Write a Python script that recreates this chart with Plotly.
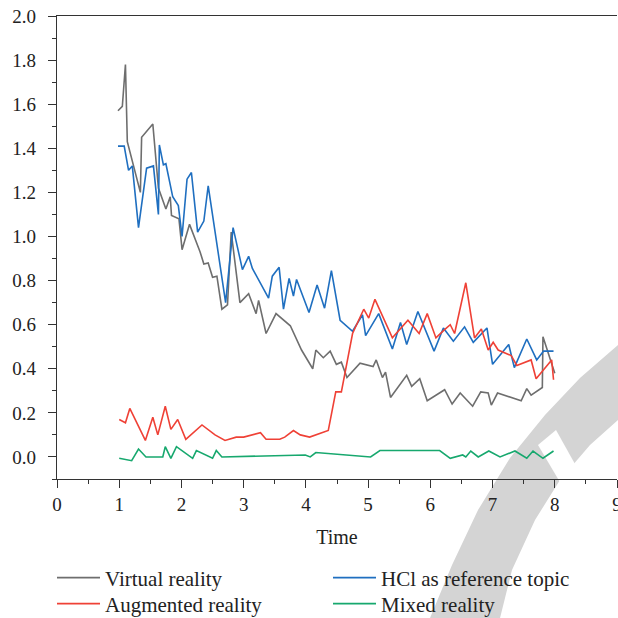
import plotly.graph_objects as go

# ---- data ----
vr_x = [0.98, 1.05, 1.10, 1.13, 1.34, 1.36, 1.54, 1.63, 1.75, 1.82, 1.84, 1.96, 2.01, 2.13, 2.30, 2.36, 2.43,
        2.50, 2.57, 2.65, 2.74, 2.80, 2.94, 3.08, 3.20, 3.24, 3.36, 3.52, 3.75, 3.93, 4.11, 4.16, 4.28, 4.39,
        4.49, 4.57, 4.66, 4.87, 5.08, 5.13, 5.23, 5.28, 5.36, 5.62, 5.70, 5.83, 5.95, 6.23, 6.35, 6.48, 6.68,
        6.81, 6.93, 6.98, 7.08, 7.46, 7.55, 7.62, 7.80, 7.81, 8.00]
vr_y = [1.57, 1.59, 1.78, 1.43, 1.20, 1.45, 1.51, 1.22, 1.125, 1.18, 1.095, 1.08, 0.94, 1.055, 0.93, 0.875, 0.88,
        0.815, 0.82, 0.67, 0.69, 1.02, 0.70, 0.74, 0.65, 0.71, 0.56, 0.65, 0.595, 0.485, 0.40, 0.485, 0.45, 0.48,
        0.42, 0.43, 0.36, 0.425, 0.41, 0.44, 0.36, 0.385, 0.27, 0.37, 0.32, 0.355, 0.255, 0.305, 0.24, 0.29, 0.23,
        0.295, 0.29, 0.235, 0.29, 0.255, 0.31, 0.28, 0.315, 0.545, 0.38]

hcl_x = [0.98, 1.08, 1.15, 1.21, 1.31, 1.44, 1.55, 1.63, 1.645, 1.71, 1.75, 1.86, 1.95, 2.01, 2.09, 2.16, 2.26,
         2.36, 2.43, 2.71, 2.83, 2.98, 3.08, 3.14, 3.40, 3.46, 3.57, 3.64, 3.73, 3.80, 3.85, 4.05, 4.18, 4.30,
         4.41, 4.55, 4.75, 4.91, 4.96, 5.17, 5.39, 5.52, 5.62, 5.80, 6.06, 6.21, 6.37, 6.55, 6.69, 6.91, 7.00,
         7.26, 7.35, 7.55, 7.71, 7.82, 7.98]
hcl_y = [1.41, 1.41, 1.30, 1.32, 1.04, 1.31, 1.32, 1.10, 1.415, 1.325, 1.33, 1.18, 1.14, 1.00, 1.26, 1.29, 1.02,
         1.07, 1.23, 0.70, 1.04, 0.85, 0.91, 0.855, 0.72, 0.82, 0.86, 0.67, 0.81, 0.73, 0.805, 0.655, 0.78, 0.675,
         0.845, 0.62, 0.57, 0.645, 0.55, 0.65, 0.49, 0.61, 0.51, 0.66, 0.48, 0.585, 0.525, 0.59, 0.52, 0.585, 0.42,
         0.51, 0.405, 0.535, 0.44, 0.48, 0.48]

ar_x = [1.00, 1.10, 1.17, 1.42, 1.54, 1.62, 1.74, 1.83, 1.94, 2.07, 2.33, 2.54, 2.70, 2.88, 3.00, 3.27, 3.36,
        3.58, 3.66, 3.80, 3.91, 4.06, 4.36, 4.48, 4.57, 4.75, 4.93, 5.01, 5.11, 5.39, 5.64, 5.72, 5.82, 5.95,
        6.09, 6.22, 6.32, 6.39, 6.57, 6.71, 6.82, 6.93, 7.01, 7.09, 7.30, 7.39, 7.62, 7.70, 7.95, 7.98]
ar_y = [0.17, 0.155, 0.22, 0.075, 0.18, 0.10, 0.23, 0.125, 0.17, 0.08, 0.145, 0.10, 0.075, 0.09, 0.09, 0.11, 0.08,
        0.08, 0.09, 0.12, 0.10, 0.09, 0.12, 0.295, 0.295, 0.56, 0.67, 0.63, 0.715, 0.54, 0.62, 0.595, 0.56, 0.65,
        0.54, 0.575, 0.60, 0.56, 0.79, 0.54, 0.58, 0.485, 0.52, 0.485, 0.46, 0.415, 0.44, 0.355, 0.44, 0.35]

mr_x = [1.00, 1.20, 1.31, 1.43, 1.70, 1.74, 1.83, 1.92, 2.18, 2.24, 2.50, 2.56, 2.65, 3.99, 4.07, 4.16, 5.04,
        5.19, 6.15, 6.32, 6.52, 6.57, 6.65, 6.77, 6.94, 7.12, 7.36, 7.55, 7.65, 7.81, 7.98]
mr_y = [-0.006, -0.017, 0.036, 0.0, 0.0, 0.047, -0.006, 0.047, -0.006, 0.029, -0.006, 0.029, 0.0, 0.009, 0.0,
        0.02, 0.0, 0.029, 0.029, -0.006, 0.009, 0.0, 0.027, 0.0, 0.027, 0.0, 0.027, -0.006, 0.027, -0.006, 0.027]

x_ticks = [0, 1, 2, 3, 4, 5, 6, 7, 8, 9]
y_ticks = [0.0, 0.2, 0.4, 0.6, 0.8, 1.0, 1.2, 1.4, 1.6, 1.8, 2.0]

FONT = "Liberation Serif"
W, H = 618, 618
ML, MR, MT, MB = 57, 1, 16, 139
PW, PH = W - ML - MR, H - MT - MB


def px(x, y):
    return (x - ML) / PW, (H - MB - y) / PH


def path(points):
    s = ""
    for i, (x, y) in enumerate(points):
        a, b = px(x, y)
        s += ("M" if i == 0 else "L") + f"{a:.4f},{b:.4f} "
    return s + "Z"


fig = go.Figure()
fig.add_trace(go.Scatter(x=vr_x, y=vr_y, mode="lines", name="Virtual reality",
                         line=dict(color="#6e6e6e", width=1.6), legend="legend"))
fig.add_trace(go.Scatter(x=hcl_x, y=hcl_y, mode="lines", name="HCl as reference topic",
                         line=dict(color="#1f6fc0", width=1.6), legend="legend2"))
fig.add_trace(go.Scatter(x=ar_x, y=ar_y, mode="lines", name="Augmented reality",
                         line=dict(color="#ef4136", width=1.6), legend="legend3"))
fig.add_trace(go.Scatter(x=mr_x, y=mr_y, mode="lines", name="Mixed reality",
                         line=dict(color="#17a86e", width=1.6), legend="legend4"))

# watermark-like grey band (decoration)
band = [(430, 618), (500, 618), (512, 570), (535, 520), (560, 480), (590, 445), (618, 420),
        (618, 345), (580, 378), (545, 415), (510, 458), (478, 510), (452, 565)]
gap = [(538, 445), (556, 430), (585, 482), (567, 494)]
fig.add_shape(type="path", path=path(band), xref="paper", yref="paper",
              fillcolor="#d4d4d4", line=dict(width=0), layer="below")
fig.add_shape(type="path", path=path(gap), xref="paper", yref="paper",
              fillcolor="white", line=dict(width=0), layer="below")

axis_common = dict(showgrid=False, zeroline=False, showline=True, linecolor="#333333", linewidth=1.2,
                   ticks="outside", tickcolor="#333333", tickwidth=1.2, ticklen=8,
                   tickfont=dict(family=FONT, size=19, color="#222222"))

fig.update_xaxes(range=[0, 9], tickvals=x_ticks, ticktext=[str(v) for v in x_ticks],
                 minor=dict(dtick=0.5, ticklen=4, tickcolor="#333333", tickwidth=1.2, ticks="outside"),
                 mirror=True, ticklabelstandoff=0, ticklabeloverflow="allow",
                 title=dict(text="Time", font=dict(family=FONT, size=20, color="#222222"), standoff=16),
                 **axis_common)
fig.update_yaxes(range=[-0.1, 2.0], tickvals=y_ticks, ticktext=[f"{v:.1f}" for v in y_ticks],
                 minor=dict(dtick=0.1, ticklen=4, tickcolor="#333333", tickwidth=1.2, ticks="outside"),
                 ticklabelstandoff=8, **axis_common)

leg_font = dict(family=FONT, size=21, color="#222222")


def leg(xpx, ypx):
    return dict(orientation="v", x=px(xpx, 0)[0], xanchor="left", y=px(0, ypx)[1], yanchor="middle",
                font=leg_font, bgcolor="rgba(0,0,0,0)", itemwidth=43, borderwidth=0)


fig.update_layout(
    width=W, height=H,
    margin=dict(l=ML, r=MR, t=MT, b=MB, autoexpand=False),
    paper_bgcolor="white", plot_bgcolor="white",
    showlegend=True,
    legend=leg(52, 578), legend2=leg(328, 578),
    legend3=leg(52, 604), legend4=leg(328, 604),
)

fig.write_html("out.html", post_script="document.body.style.margin='0px';",
               config={"displayModeBar": False})
